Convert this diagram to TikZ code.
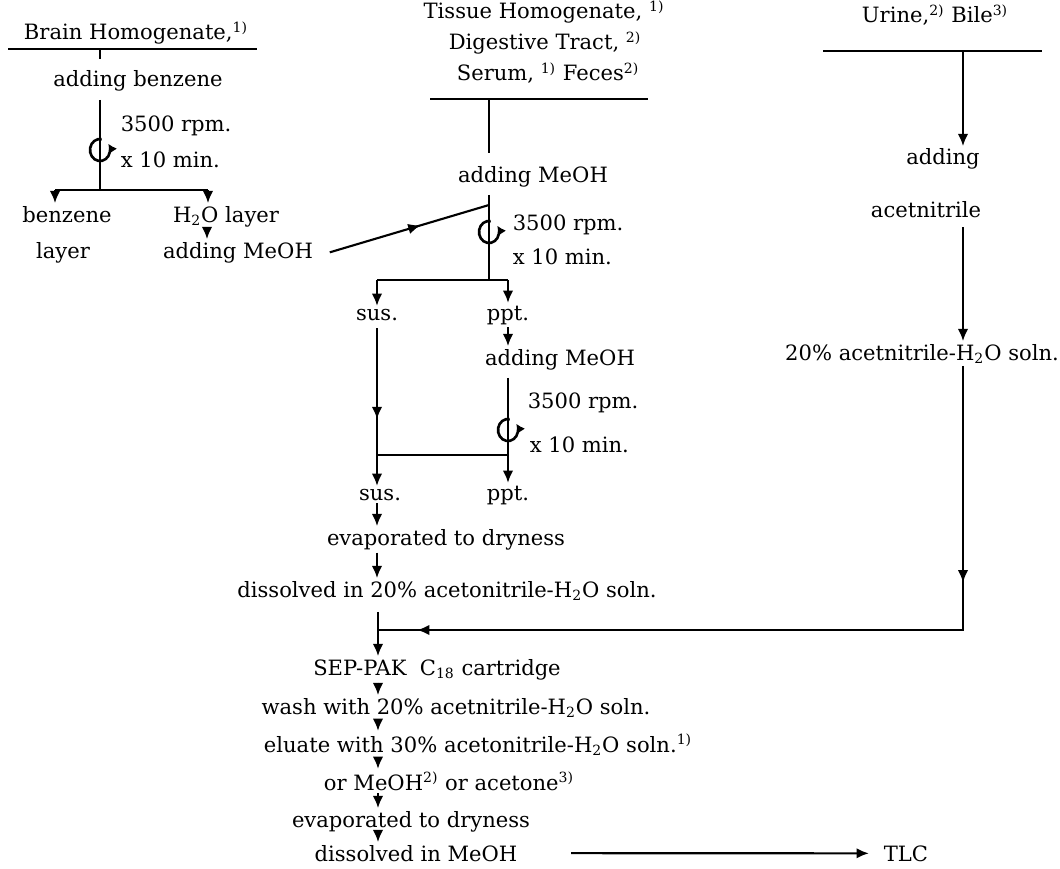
\documentclass[tikz,border=0pt]{standalone}
\usepackage{fontspec}
\setmainfont{DejaVu Serif}
\usetikzlibrary{arrows.meta,decorations.markings}
\tikzset{
  txt/.style={anchor=base,inner sep=1pt,font=\fontsize{12}{14}\selectfont},
  arr/.style={-{Latex[length=7pt,width=6pt]}},
  midarrow/.style={postaction={decorate,decoration={markings,
    mark=at position #1 with {\arrow{Latex[length=7pt,width=6pt]}}}}},
  rotor/.pic={\draw[line width=1.5pt,-{Latex[length=5pt,width=5.5pt]}] (-80:10 and 11)
    arc[start angle=-80,end angle=-395,x radius=10,y radius=11];}
}
\begin{document}
\begin{tikzpicture}[x=0.02cm,y=-0.02cm,line width=1.2pt]
\useasboundingbox (0,0) rectangle (1060,868);
% column lines
\coordinate (ca) at (100,0);
\coordinate (cb) at (489,0);
\coordinate (csus) at (377,0);
\coordinate (cppt) at (508,0);
\coordinate (cmain) at (378,0);
\coordinate (cc) at (963,0);
\coordinate (ch) at (207,0);
% brain
\node[txt] (brain) at (136,40) {Brain Homogenate,\textsuperscript{1)}};
\coordinate (ula) at (8,49);
\coordinate (ulb) at (257,49);
\draw (ula)--(ulb);
\node[txt] (addbz) at (138,87) {adding benzene};
\draw[shorten >=5pt] (ula -| ca)--(addbz.north -| ca);
\coordinate (s1) at (100,190);
\coordinate (s1l) at (55,190);
\coordinate (s1r) at (208,190);
\draw[shorten <=3pt] (addbz.south -| ca)--(s1);
\pic at (100,150) {rotor};
\node[txt,anchor=base west] (rpm1) at (118,132) {3500 rpm.};
\node[txt,anchor=base west] (min1) at (118,168) {x 10 min.};
\node[txt] (bz) at (67,222) {benzene};
\node[txt] (bzl) at (63,258) {layer};
\node[txt] (h2o) at (226,222) {H\textsubscript{2}O layer};
\node[txt] (addme1) at (238,258) {adding MeOH};
\draw (s1l)--(s1r);
\draw[arr] (s1l)--(bz.north -| s1l);
\draw[arr] (s1r)--(h2o.north -| s1r);
\draw[arr] (h2o.south -| ch)--(addme1.north -| ch);
% tissue
\node[txt] (tissue) at (544,19) {Tissue Homogenate,~\textsuperscript{1)}};
\node[txt] (digest) at (545,50) {Digestive Tract,~\textsuperscript{2)}};
\node[txt] (serum) at (548,81) {Serum,~\textsuperscript{1)} Feces\textsuperscript{2)}};
\coordinate (ulc) at (430,99);
\coordinate (uld) at (648,99);
\draw (ulc)--(uld);
\node[txt] (addme2) at (533,182) {adding MeOH};
\draw[shorten >=6pt] (ulc -| cb)--(addme2.north -| cb);
\coordinate (j1) at (489,205);
\coordinate (s2) at (489,280);
\coordinate (s2l) at (377,280);
\coordinate (s2r) at (508,280);
\draw[shorten <=3pt] (addme2.south -| cb)--(s2);
\draw[midarrow=0.57] ([xshift=8pt]addme1.east)--(j1);
\pic at (489,232) {rotor};
\node[txt,anchor=base west] (rpm2) at (510,230) {3500 rpm.};
\node[txt,anchor=base west] (min2) at (510,264) {x 10 min.};
\node[txt] (sus1) at (377,320) {sus.};
\node[txt] (ppt1) at (508,320) {ppt.};
\draw (s2l)--(s2r);
\draw[arr] (s2l)--(sus1.north -| s2l);
\draw[arr] (s2r)--(ppt1.north -| s2r);
\node[txt] (addme3) at (560,365) {adding MeOH};
\draw[arr] (ppt1.south -| cppt)--(addme3.north -| cppt);
\node[txt] (sus2) at (380,500) {sus.};
\node[txt] (ppt2) at (508,500) {ppt.};
\draw[arr,shorten <=3pt] (addme3.south -| cppt)--(ppt2.north -| cppt);
\pic at (508,430) {rotor};
\node[txt,anchor=base west] (rpm3) at (525,408) {3500 rpm.};
\node[txt,anchor=base west] (min3) at (527,452) {x 10 min.};
\draw[arr,midarrow=0.59,shorten <=3pt] (sus1.south -| csus)--(sus2.north -| csus);
\coordinate (j2) at (377,455);
\coordinate (j3) at (508,455);
\draw (j2)--(j3);
\node[txt] (evap1) at (446,545) {evaporated to dryness};
\draw[arr] (sus2.south -| csus)--(evap1.north -| csus);
\node[txt] (diss1) at (447,597) {dissolved in 20\% acetonitrile-H\textsubscript{2}O soln.};
\draw[arr] (evap1.south -| csus)--(diss1.north -| csus);
% urine
\node[txt] (urine) at (935,23) {Urine,\textsuperscript{2)} Bile\textsuperscript{3)}};
\coordinate (ule) at (823,51);
\coordinate (ulf) at (1042,51);
\draw (ule)--(ulf);
\node[txt] (addac) at (943,165) {adding};
\node[txt] (acet) at (926,217) {acetnitrile};
\draw[arr] (ule -| cc)--(addac.north -| cc);
\node[txt] (soln) at (922,360) {20\% acetnitrile-H\textsubscript{2}O soln.};
\draw[arr,shorten <=4pt] (acet.south -| cc)--(soln.north -| cc);
\coordinate (j4) at (378,630);
\draw[midarrow=0.255,midarrow=0.954] (soln.south -| cc) |- (j4);
% cartridge
\node[txt] (sep) at (437,675) {SEP-PAK~~C\textsubscript{18}~cartridge};
\draw[arr,shorten <=5pt] (diss1.south -| cmain)--(sep.north -| cmain);
\node[txt] (wash) at (456,714) {wash with 20\% acetnitrile-H\textsubscript{2}O soln.};
\draw[arr] (sep.south -| cmain)--(wash.north -| cmain);
\node[txt] (elu) at (478,752) {eluate with 30\% acetonitrile-H\textsubscript{2}O soln.\textsuperscript{1)}};
\draw[arr] (wash.south -| cmain)--(elu.north -| cmain);
\node[txt] (orme) at (449,790) {or MeOH\textsuperscript{2)} or acetone\textsuperscript{3)}};
\draw[arr] (elu.south -| cmain)--(orme.north -| cmain);
\node[txt] (evap2) at (411,827) {evaporated to dryness};
\draw[arr] (orme.south -| cmain)--(evap2.north -| cmain);
\node[txt] (diss2) at (416,861) {dissolved in MeOH};
\draw[arr] (evap2.south -| cmain)--(diss2.north -| cmain);
\node[txt] (tlc) at (906,861) {TLC};
\draw[arr,shorten <=29pt,shorten >=7pt] (diss2.east)--(tlc.west);
\end{tikzpicture}
\end{document}
